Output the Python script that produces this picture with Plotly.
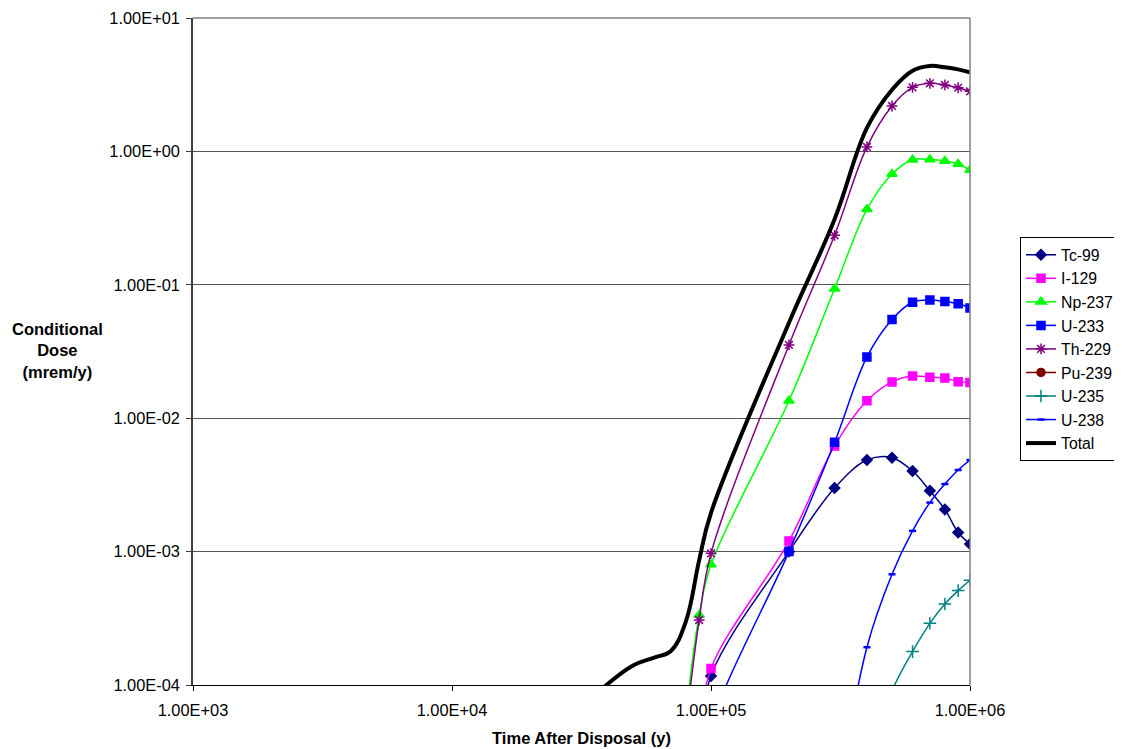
import plotly.graph_objects as go

# ---- data ----
times = [8e4, 9e4, 1e5, 2e5, 3e5, 4e5, 5e5, 6e5, 7e5, 8e5, 9e5, 1e6]

tc99   = [1.0e-5, 3.0e-5, 1.17e-4, 1.0e-3, 3.0e-3, 4.86e-3, 5.06e-3, 4.02e-3, 2.86e-3, 2.07e-3, 1.39e-3, 1.14e-3]
i129   = [1.0e-5, 4.0e-5, 1.33e-4, 1.2e-3, 6.2e-3, 1.35e-2, 1.87e-2, 2.07e-2, 2.03e-2, 2.0e-2, 1.88e-2, 1.85e-2]
np237  = [6.0e-5, 3.35e-4, 8.0e-4, 1.35e-2, 9.35e-2, 0.368, 0.677, 0.866, 0.87, 0.847, 0.805, 0.726]
u233   = [5.0e-6, 1.5e-5, 5.0e-5, 1.0e-3, 6.6e-3, 2.88e-2, 5.5e-2, 7.4e-2, 7.7e-2, 7.5e-2, 7.2e-2, 6.7e-2]
th229  = [5.0e-5, 3.07e-4, 9.7e-4, 3.54e-2, 0.235, 1.08, 2.19, 3.02, 3.24, 3.15, 3.0, 2.82]
pu239  = [1.0e-7, 1.0e-7, 1.0e-7, 1.0e-7, 1.0e-7, 1.0e-7, 1.0e-7, 1.0e-7, 1.0e-7, 1.0e-7, 1.0e-7, 1.0e-7]
u235   = [None, None, None, None, None, 2.0e-5, 9.0e-5, 1.78e-4, 2.9e-4, 4.05e-4, 5.1e-4, 6.1e-4]
u238   = [None, None, None, None, 1.0e-5, 1.92e-4, 6.76e-4, 1.43e-3, 2.33e-3, 3.21e-3, 4.09e-3, 4.86e-3]

total_times = [3e4, 4e4, 5e4, 6e4, 7e4, 8e4, 9e4, 1e5, 2e5, 3e5, 4e5, 5e5, 6e5, 7e5, 8e5, 9e5, 1e6]
total       = [6.0e-5, 1.02e-4, 1.4e-4, 1.6e-4, 1.8e-4, 3.0e-4, 8.6e-4, 1.95e-3, 5.2e-2, 0.31, 1.5, 2.9, 4.03, 4.37, 4.27, 4.12, 3.91]

x_ticks = [1e3, 1e4, 1e5, 1e6]
x_tick_labels = ["1.00E+03", "1.00E+04", "1.00E+05", "1.00E+06"]
y_ticks = [1e-4, 1e-3, 1e-2, 1e-1, 1e0, 1e1]
y_tick_labels = ["1.00E-04", "1.00E-03", "1.00E-02", "1.00E-01", "1.00E+00", "1.00E+01"]

series = [
    ("Tc-99", tc99, "#000080", "diamond", 8, 1.5),
    ("I-129", i129, "#FF00FF", "square", 8, 1.5),
    ("Np-237", np237, "#00FF00", "triangle-up", 9, 1.5),
    ("U-233", u233, "#0000FF", "square", 8, 1.5),
    ("Th-229", th229, "#800080", "asterisk-open", 9, 1.5),
    ("Pu-239", pu239, "#800000", "circle", 8, 1.5),
    ("U-235", u235, "#008080", "cross-thin-open", 9, 1.5),
    ("U-238", u238, "#0000FF", "line-ew-open", 5, 2.5),
]

# The page body has an 8px margin; compensate so the plot area lands where the reference has it
OFF = 8
W, H = 1122 - OFF, 749 - OFF
ML, MR, MT, MB = 193 - OFF, 152, 18 - OFF, 64

fig = go.Figure()
for name, vals, color, sym, size, mlw in series:
    fig.add_trace(go.Scatter(
        x=times, y=vals, name=name, mode="lines+markers",
        line=dict(color=color, width=1.5, shape="spline", smoothing=1.0),
        marker=dict(symbol=sym, size=size, color=color,
                    line=dict(color=color, width=mlw)),
        legendgroup=name, connectgaps=False,
    ))

fig.add_trace(go.Scatter(
    x=total_times, y=total, name="Total", mode="lines",
    line=dict(color="black", width=4, shape="spline", smoothing=1.1),
    legendgroup="Total",
))

pw = W - ML - MR
ph = H - MT - MB

def px_x(x):
    return (x - OFF - ML) / pw

def px_y(y):
    return 1 - (y - OFF - MT) / ph

fig.update_layout(
    width=W, height=H,
    margin=dict(l=ML, r=MR, t=MT, b=MB, autoexpand=False),
    paper_bgcolor="white", plot_bgcolor="white",
    font=dict(family="Liberation Sans, Arial, sans-serif", size=16, color="black"),
    showlegend=True,
    legend=dict(x=px_x(1020), y=px_y(237), xanchor="left", yanchor="top",
                bordercolor="black", borderwidth=1, bgcolor="white",
                font=dict(size=15.8), tracegroupgap=0, itemwidth=30),
    xaxis=dict(type="log", range=[3, 6], tickvals=x_ticks, ticktext=x_tick_labels,
               showgrid=False, ticks="outside", ticklen=5, tickcolor="black",
               tickfont=dict(size=16.4), ticklabelstandoff=5,
               showline=True, linecolor="black", linewidth=1, mirror=False,
               zeroline=False,
               title=dict(text="<b>Time After Disposal (y)</b>", font=dict(size=16.5), standoff=14)),
    yaxis=dict(type="log", range=[-4, 1], tickvals=y_ticks, ticktext=y_tick_labels,
               showgrid=True, gridcolor="#555555", gridwidth=1,
               ticks="outside", ticklen=5, tickcolor="#404040",
               tickfont=dict(size=16.4), ticklabelstandoff=3,
               showline=True, linecolor="#404040", linewidth=1.5,
               zeroline=False),
    annotations=[dict(text="<b>Conditional<br>Dose<br>(mrem/y)</b>",
                      x=px_x(57), y=px_y(350),
                      xref="paper", yref="paper", showarrow=False,
                      xanchor="center", yanchor="middle",
                      font=dict(size=16.5))],
)

# plot-area border (top/right grey)
fig.add_shape(type="line", xref="paper", yref="paper", x0=0, x1=1, y0=1, y1=1,
              line=dict(color="#808080", width=1.5))
fig.add_shape(type="line", xref="paper", yref="paper", x0=1, x1=1, y0=0, y1=1,
              line=dict(color="#808080", width=1.5))

fig.write_html("out.html")
